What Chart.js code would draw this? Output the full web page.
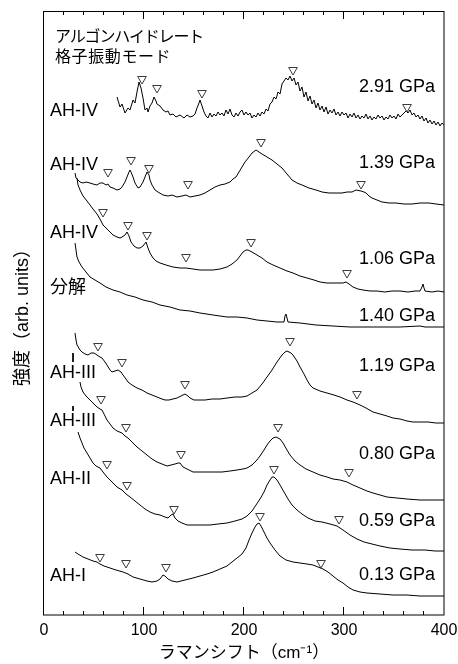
<!DOCTYPE html>
<html><head><meta charset="utf-8">
<script src="https://cdn.jsdelivr.net/npm/chart.js@4.4.1/dist/chart.umd.min.js"></script>
<style>html,body{margin:0;padding:0;background:#fff;}canvas{display:block;}</style>
</head><body>
<canvas id="c" width="458" height="664"></canvas>
<script>
// ---- data (x: Raman shift cm^-1, y: intensity, arb. units with stacking offset) ----
const xTickValues = [0, 100, 200, 300, 400];
const pressures = ['2.91 GPa','1.39 GPa','1.06 GPa','1.40 GPa','1.19 GPa','0.80 GPa','0.59 GPa','0.13 GPa'];
const phases = ['AH-IV','AH-IV','AH-IV','分解','AH-III','AH-III','AH-II','AH-I'];
const titleLines = ['アルゴンハイドレート','格子振動モード'];

const spec291 = [[73,518],[76,508],[78,511],[81,502],[84,507],[86,505],[89,515],[91,512],[93,523],[95,533],[97,527],[99,517],[101,505],[103,507],[104,503],[106,509],[108,512],[110,518],[112,514],[113,511],[116,509],[119,505],[122,503],[124,504],[126,500],[129,501],[132,498],[136,500],[140,497],[143,500],[146,498],[149,499],[151,501],[153,507],[155,512],[156,515],[158,509],[160,503],[162,499],[164,497],[166,502],[168,498],[170,501],[172,499],[174,503],[176,500],[178,502],[180,499],[182,505],[184,501],[186,506],[188,500],[190,498],[192,502],[194,499],[196,503],[198,505],[200,500],[202,503],[204,500],[206,502],[208,497],[210,500],[212,498],[214,502],[216,499],[218,503],[220,501],[222,506],[224,504],[226,511],[228,513],[230,518],[232,516],[234,523],[236,521],[238,531],[240,534],[242,537],[244,535],[246,539],[248,534],[250,537],[252,530],[254,533],[256,524],[258,528],[260,518],[262,523],[264,514],[266,519],[268,511],[270,515],[272,507],[274,512],[276,505],[278,509],[280,503],[282,508],[284,501],[286,505],[288,502],[290,506],[292,500],[294,503],[296,499],[298,503],[300,500],[302,502],[304,497],[306,501],[308,498],[310,502],[312,497],[314,500],[316,496],[318,499],[320,497],[322,501],[324,496],[326,499],[328,495],[330,498],[332,496],[334,500],[336,497],[338,499],[340,495],[342,498],[344,496],[346,500],[348,497],[350,499],[352,496],[354,501],[356,498],[358,500],[360,502],[362,504],[364,502],[366,505],[368,500],[370,502],[372,498],[374,500],[376,496],[378,499],[380,494],[382,497],[384,492],[386,495],[388,491],[390,494],[392,490],[394,493],[396,489],[398,492],[400,490]];
const spec139 = [[31,442],[32,437],[34,435],[36,433],[39,432],[42,433],[46,432],[49,431],[53,430],[56,432],[59,432],[62,430],[64,431],[66,428],[69,427],[73,425],[76,426],[78,428],[81,433],[83,438],[85,443],[86,445],[87,443],[89,438],[91,432],[94,427],[96,428],[99,433],[101,438],[103,443],[105,440],[106,435],[108,430],[111,425],[114,423],[119,420],[124,419],[128,420],[133,418],[138,419],[142,420],[146,418],[151,419],[156,420],[161,422],[166,425],[171,428],[176,430],[181,431],[186,433],[189,436],[192,438],[195,443],[198,448],[201,453],[205,458],[208,462],[212,465],[215,463],[218,461],[223,458],[228,455],[233,451],[238,447],[243,441],[248,435],[253,432],[258,430],[265,427],[272,425],[278,423],[285,422],[292,422],[298,422],[303,423],[308,423],[312,425],[317,424],[320,423],[322,422],[325,419],[328,417],[333,415],[338,413],[345,412],[352,412],[360,411],[368,411],[376,412],[385,412],[392,411],[400,410]];
const spec106 = [[33,437],[34,430],[36,425],[39,419],[43,414],[46,410],[49,406],[53,401],[56,396],[59,390],[62,387],[66,383],[69,380],[73,378],[76,377],[78,378],[81,380],[83,383],[85,379],[87,373],[90,369],[93,367],[96,367],[99,369],[102,373],[104,367],[106,362],[109,357],[112,354],[116,352],[122,350],[129,348],[136,347],[142,347],[149,346],[156,345],[163,345],[169,345],[176,346],[183,348],[188,351],[193,355],[196,359],[199,363],[202,365],[204,365],[208,363],[213,360],[218,357],[223,353],[229,350],[236,347],[243,344],[249,342],[256,339],[263,337],[270,335],[276,333],[283,332],[289,332],[294,332],[299,332],[302,333],[305,331],[309,328],[314,326],[319,325],[326,324],[333,324],[341,323],[348,324],[356,324],[364,323],[371,324],[376,324],[378,328],[379,331],[380,327],[381,324],[388,323],[394,324],[400,323]];
const spec140 = [[31,372],[32,365],[33,358],[35,353],[38,348],[42,343],[46,338],[51,335],[56,332],[62,328],[69,325],[76,323],[83,320],[91,318],[99,315],[108,313],[116,310],[126,308],[136,305],[146,304],[156,302],[169,300],[183,298],[193,298],[203,297],[213,295],[223,294],[233,293],[240,293],[241,299],[242,301],[243,297],[244,293],[256,292],[272,290],[289,289],[306,288],[323,288],[339,288],[356,288],[376,289],[381,288],[400,288]];
const spec119 = [[29,262],[29,253],[29,null],[31,282],[32,275],[33,270],[36,265],[38,263],[41,261],[44,260],[47,262],[50,262],[53,260],[56,258],[58,257],[61,253],[63,250],[66,245],[68,243],[71,244],[74,245],[77,243],[79,240],[82,236],[84,233],[88,230],[93,227],[98,225],[103,222],[108,220],[113,218],[118,216],[121,215],[125,215],[129,216],[133,217],[137,219],[141,221],[144,219],[146,217],[150,215],[154,215],[161,215],[168,216],[176,216],[183,217],[191,218],[198,218],[203,219],[208,222],[213,225],[218,231],[223,238],[228,245],[233,253],[238,260],[241,263],[243,264],[245,263],[247,262],[249,260],[253,254],[256,248],[260,241],[263,235],[266,230],[269,227],[276,224],[283,222],[290,220],[296,218],[303,215],[309,213],[316,210],[322,207],[329,203],[336,201],[343,199],[349,197],[356,196],[363,194],[369,193],[376,193],[384,193],[392,192],[400,192]];
const spec080 = [[29,209],[29,204],[29,null],[36,233],[37,228],[39,223],[42,219],[46,215],[50,211],[53,208],[56,206],[58,205],[61,199],[63,195],[66,191],[69,187],[73,184],[78,182],[81,179],[84,177],[88,173],[93,168],[98,164],[103,160],[108,156],[113,153],[118,151],[123,149],[127,150],[131,151],[134,152],[136,152],[139,148],[143,146],[149,143],[156,143],[163,143],[171,143],[178,143],[186,144],[193,145],[199,146],[203,147],[208,150],[212,154],[216,159],[220,165],[223,170],[226,174],[229,177],[232,178],[234,177],[236,176],[239,172],[243,165],[246,160],[251,154],[256,150],[262,146],[269,143],[276,140],[283,138],[289,136],[296,135],[303,133],[309,130],[316,127],[323,124],[329,122],[336,120],[343,118],[353,117],[363,116],[376,115],[388,115],[400,115]];
const spec059 = [[34,183],[36,177],[38,172],[40,167],[43,162],[46,157],[49,152],[52,149],[56,147],[59,143],[63,138],[66,135],[69,132],[73,128],[78,125],[82,121],[86,118],[91,114],[96,110],[101,106],[106,103],[111,101],[116,100],[121,98],[124,97],[127,100],[129,101],[131,97],[134,94],[138,92],[143,90],[151,90],[158,90],[166,90],[174,91],[183,92],[191,94],[198,96],[203,99],[208,104],[212,110],[216,116],[220,123],[223,130],[226,135],[228,138],[230,138],[233,135],[236,130],[240,123],[244,116],[248,110],[253,105],[258,101],[264,97],[271,94],[278,93],[286,91],[293,89],[299,85],[306,80],[313,76],[320,73],[328,71],[336,69],[346,67],[356,66],[368,65],[381,65],[391,64],[400,64]];
const spec013 = [[31,63],[34,61],[39,58],[44,56],[49,54],[53,53],[56,51],[60,49],[66,47],[72,45],[79,43],[84,41],[89,38],[96,36],[103,34],[108,33],[113,34],[116,36],[119,40],[121,39],[124,36],[128,34],[133,33],[141,35],[149,37],[156,39],[163,41],[169,43],[176,46],[183,49],[188,53],[193,57],[198,61],[202,67],[205,75],[208,82],[211,88],[213,91],[215,92],[217,89],[220,83],[223,77],[226,72],[231,65],[236,59],[242,55],[249,53],[256,52],[263,51],[269,50],[274,48],[279,46],[284,43],[289,39],[294,35],[299,32],[304,28],[309,25],[316,23],[323,22],[336,21],[349,20],[363,20],[376,19],[388,19],[400,19]];

const peaks291 = [[98,536],[113,527],[158,522],[249,545],[363,508]];
const peaks139 = [[64,443],[87,455],[105,447],[144,431],[217,473],[317,431]];
const peaks106 = [[59,403],[84,390],[103,380],[142,358],[207,373],[303,342]];
const peaks119 = [[54,269],[78,253],[141,231],[246,274],[313,221]];
const peaks080 = [[57,216],[82,188],[137,161],[234,188],[305,143]];
const peaks059 = [[63,151],[83,130],[130,106],[230,146],[295,96]];
const peaks013 = [[56,58],[82,52],[122,48],[216,99],[277,52]];

// ---- presentation ----
const spectra = [spec291, spec139, spec106, spec140, spec119, spec080, spec059, spec013];
const peakSets = [peaks291, peaks139, peaks106, peaks119, peaks080, peaks059, peaks013];
// label anchors in data units (x in cm^-1, y in arb. units)
const phaseAnchorX = 6, pressureAnchorX = 391, titleAnchorX = 11;
const phaseAnchorY = [504, 450, 382, 327, 242, 194, 136, 39];
const pressureAnchorY = [528, 452, 356, 299, 249, 161, 94, 40];
const titleAnchorY = [579, 559];
const titleSpacing = ['-1.2px', '0.6px'];

const FONT = "'Liberation Sans', Arial, 'Noto Sans CJK JP', sans-serif";
const toXY = arr => arr.map(p => ({x: p[0], y: p[1]}));

const datasets = [];
peakSets.forEach(ps => datasets.push({
  type: 'scatter', data: toXY(ps), order: 0,
  pointStyle: 'triangle', rotation: 180, pointRadius: 5, pointHoverRadius: 5,
  borderColor: '#3a3a3a', backgroundColor: '#ffffff', borderWidth: 1
}));
spectra.forEach(s => datasets.push({
  type: 'line', data: toXY(s), order: 1,
  borderColor: '#000', borderWidth: 1, pointRadius: 0, tension: 0, spanGaps: false, fill: false
}));

const decor = {
  id: 'decor',
  afterDatasetsDraw(chart) {
    const {ctx, chartArea: a, scales: {x, y}} = chart;
    ctx.save();
    ctx.strokeStyle = '#000';
    ctx.lineWidth = 1;
    ctx.strokeRect(a.left - 0.5, a.top + 0.5, a.right - a.left + 0.5, a.bottom - a.top - 0.5);
    // inward ticks on bottom and top
    ctx.beginPath();
    x.ticks.forEach(t => {
      if (t.value <= x.min || t.value >= x.max) return;
      const px = Math.round(x.getPixelForValue(t.value)) - 0.5;
      const len = xTickValues.includes(t.value) ? 8 : 4;
      ctx.moveTo(px, a.bottom); ctx.lineTo(px, a.bottom - len);
      ctx.moveTo(px, a.top); ctx.lineTo(px, a.top + len);
    });
    ctx.stroke();
    ctx.fillStyle = '#000';
    ctx.textBaseline = 'middle';
    ctx.font = "18px " + FONT;
    ctx.textAlign = 'left';
    phases.forEach((t, i) => ctx.fillText(t, x.getPixelForValue(phaseAnchorX), y.getPixelForValue(phaseAnchorY[i])));
    ctx.textAlign = 'right';
    pressures.forEach((t, i) => ctx.fillText(t, x.getPixelForValue(pressureAnchorX), y.getPixelForValue(pressureAnchorY[i])));
    ctx.textAlign = 'left';
    ctx.font = "16px 'Noto Sans CJK JP', sans-serif";
    titleLines.forEach((t, i) => {
      ctx.letterSpacing = titleSpacing[i];
      ctx.fillText(t, x.getPixelForValue(titleAnchorX), y.getPixelForValue(titleAnchorY[i]));
    });
    ctx.letterSpacing = '0px';
    ctx.restore();
  }
};

new Chart(document.getElementById('c'), {
  data: {datasets},
  options: {
    responsive: false, animation: false, devicePixelRatio: 1,
    layout: {padding: {top: 11, right: 14, left: 0, bottom: 0}},
    plugins: {legend: {display: false}, tooltip: {enabled: false}},
    scales: {
      x: {
        type: 'linear', position: 'bottom', min: 0, max: 400,
        grid: {display: false, drawTicks: false}, border: {display: false},
        ticks: {stepSize: 20, autoSkip: false, maxRotation: 0, padding: 6, color: '#000',
          font: {family: FONT, size: 16},
          callback: v => xTickValues.includes(v) ? String(v) : ''},
        title: {display: true, text: 'ラマンシフト（cm⁻¹）', color: '#000',
          font: {family: FONT, size: 17}, padding: {top: 0, bottom: 0}},
        afterFit(s) { s.height = 49; s.paddingLeft = 0; s.paddingRight = 0; }
      },
      y: {
        type: 'linear', position: 'left', min: 0, max: 604,
        grid: {display: false, drawTicks: false}, border: {display: false},
        ticks: {display: false},
        title: {display: true, text: '強度（arb. units）', color: '#000',
          font: {family: FONT, size: 18}, padding: {top: 12, bottom: 0}},
        afterFit(s) { s.width = 44; }
      }
    }
  },
  plugins: [decor]
});
</script>
</body></html>
